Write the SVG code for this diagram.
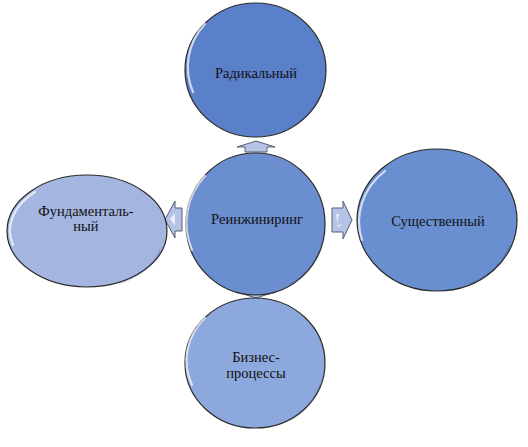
<svg xmlns="http://www.w3.org/2000/svg" width="528" height="447" viewBox="0 0 528 447">
<style>
.c{stroke:#2a2a2a;stroke-width:1.2}
.hl{fill:none;stroke:#ffffff;stroke-opacity:0.7;stroke-width:2.2;stroke-linecap:round}
.sh{fill:none;stroke:#2c3f66;stroke-opacity:0.2;stroke-width:2}
.t{font-size:14.5px;fill:#111;text-anchor:middle}
.a{fill:#b4c3e6;stroke:#555e70;stroke-width:1}
.ah{fill:#ffffff;fill-opacity:0.7}
</style>
<rect width="528" height="447" fill="#ffffff"/>
<g id="connectors">
<path class="a" d="M245,152 L245,147 L237,147 L256,141 L275,147 L267,147 L267,152 Z"/>
<path class="a" d="M245,287 L267,287 L267,292 L275,292 L256,298 L237,292 L245,292 Z"/>
<path class="a" d="M182,208 L182,231 L175,231 L175,238 L165,219.5 L175,201 L175,208 Z"/>
<path class="ah" d="M175,213 L170,219 L175,226 Z"/>
<path class="a" d="M332,208 L343,208 L343,201 L352,220 L343,239 L343,232 L332,232 Z"/>
<path class="ah" d="M336,214 L339,214 L337,226 L342,224 L338,228 Z"/>
</g>
<g id="node-radical">
<ellipse class="c" cx="255.5" cy="70" rx="70.5" ry="67" fill="#5b80ca"/>
<path class="hl" d="M193,92 A66,64 0 0 1 205,24"/>
<path class="sh" d="M320,95 A66,63 0 0 1 290,128"/>
<text class="t" font-family="'Liberation Serif', 'DejaVu Serif', serif" x="256" y="78">Радикальный</text>
</g>
<g id="node-center">
<ellipse class="c" cx="255.5" cy="224" rx="69.5" ry="71" fill="#6a8ed0"/>
<path class="hl" d="M192,250 A65,67 0 0 1 205,176"/>
<path class="sh" d="M320,250 A65,67 0 0 1 290,285"/>
<text class="t" font-family="'Liberation Serif', 'DejaVu Serif', serif" x="257" y="224">Реинжиниринг</text>
</g>
<g id="node-fundamental">
<ellipse class="c" cx="87" cy="231" rx="80" ry="56" fill="#a4b6e0"/>
<path class="hl" d="M13,245 A76,52 0 0 1 35,192"/>
<path class="sh" d="M160,250 A76,52 0 0 1 120,283"/>
<text class="t" font-family="'Liberation Serif', 'DejaVu Serif', serif" x="86" y="216">Фундаменталь-</text>
<text class="t" font-family="'Liberation Serif', 'DejaVu Serif', serif" x="86" y="231">ный</text>
</g>
<g id="node-substantial">
<ellipse class="c" cx="437" cy="220" rx="80" ry="71" fill="#6a8fd1"/>
<path class="hl" d="M362,240 A76,67 0 0 1 385,171"/>
<path class="sh" d="M510,245 A76,67 0 0 1 470,284"/>
<text class="t" font-family="'Liberation Serif', 'DejaVu Serif', serif" x="438" y="226">Существенный</text>
</g>
<g id="node-business">
<ellipse class="c" cx="255" cy="363" rx="70" ry="65" fill="#8da8dc"/>
<path class="hl" d="M192,385 A66,61 0 0 1 205,318"/>
<path class="sh" d="M320,385 A66,61 0 0 1 290,420"/>
<text class="t" font-family="'Liberation Serif', 'DejaVu Serif', serif" x="256" y="362">Бизнес-</text>
<text class="t" font-family="'Liberation Serif', 'DejaVu Serif', serif" x="256" y="378">процессы</text>
</g>
</svg>
